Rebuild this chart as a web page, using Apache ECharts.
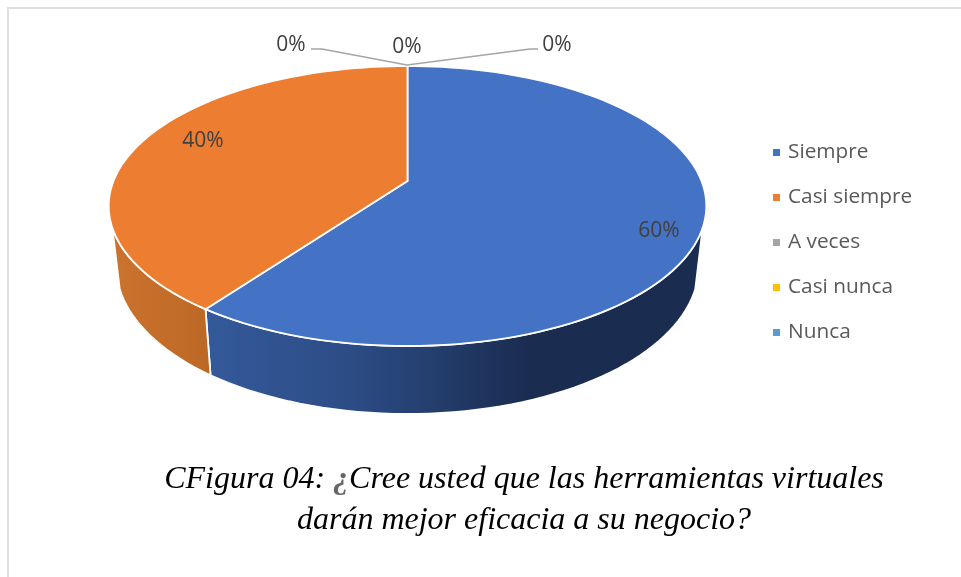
<!DOCTYPE html>
<html>
<head>
<meta charset="utf-8">
<script src="https://cdn.jsdelivr.net/npm/echarts@6/dist/echarts.min.js"></script>
<style>
    html, body { margin: 0; background: #fff; }
    #chart { width: 961px; height: 577px; }
</style>
</head>
<body>
<div id="chart"></div>
<script>
const categories = ['Siempre', 'Casi siempre', 'A veces', 'Casi nunca', 'Nunca']
const values = [60, 40, 0, 0, 0]
const colors = ['#4472c4', '#ed7d31', '#a5a5a5', '#ffc000', '#5b9bd5']
const total = values.reduce((a, b) => a + b, 0)

// the disc is seen in perspective, so its centre sits above the middle of the ellipse
const disc = { cx: 407.5, cy: 181, a: 103.2, c: -0.1786, w: 294 }
// the wall is deeper at the front than at the sides
const wall = { depth: 58, tilt: 10, shrink: 0.975, from: 109, to: 251 }
const fonts = '"Open Sans", sans-serif'

// where each label goes and its leader line, same order as categories
const labelSpots = [
    { x: 659, y: 231.5 },
    { x: 203, y: 141.5 },
    { x: 291, y: 45.5, line: [[407, 65], [322, 49], [311, 49]] },
    { x: 407, y: 47.5 },
    { x: 557, y: 45.5, line: [[407, 65], [530, 49], [538, 49]] }
]

const wallFills = [
    new echarts.graphic.LinearGradient(0, 0, 1, 0, [
        { offset: 0, color: '#34599a' },
        { offset: 0.3, color: '#2c4c85' },
        { offset: 0.65, color: '#1a2c50' },
        { offset: 1, color: '#1a2c50' }
    ]),
    new echarts.graphic.LinearGradient(0, 0, 1, 0, [
        { offset: 0, color: '#cb732f' },
        { offset: 1, color: '#bc6825' }
    ])
]

// deg is clockwise from the top of the pie
function project(deg, bottom) {
    const t = deg * Math.PI / 180
    const u = Math.sin(t), v = -Math.cos(t)
    const k = 1 + disc.c * v
    const x = disc.w * u / k
    const y = (disc.cy + disc.a * v) / k
    if (!bottom) return [disc.cx + x, y]
    return [disc.cx + x * wall.shrink, y + wall.depth + wall.tilt * v]
}

function arc(from, to, bottom) {
    const pts = []
    const n = Math.max(2, Math.ceil((to - from) / 2))
    for (let i = 0; i <= n; i++) {
        pts.push(project(from + (to - from) * i / n, bottom))
    }
    return pts
}

function sliceItem(index) {
    const before = values.slice(0, index).reduce((a, b) => a + b, 0)
    const start = before / total * 360
    const end = (before + values[index]) / total * 360
    const kids = []

    if (values[index] > 0) {
        const a = Math.max(start, wall.from), b = Math.min(end, wall.to)
        if (b > a) {
            kids.push({
                type: 'polygon',
                z2: 1,
                shape: { points: arc(a, b, false).concat(arc(a, b, true).reverse()) },
                style: { fill: wallFills[index], stroke: '#fff', lineWidth: 1.8 }
            })
        }
        kids.push({
            type: 'polygon',
            z2: 2,
            shape: { points: [[disc.cx, disc.cy]].concat(arc(start, end, false)) },
            style: { fill: colors[index], stroke: '#fff', lineWidth: 1.8 }
        })
    }

    const spot = labelSpots[index]
    if (spot.line) {
        kids.push({
            type: 'polyline',
            z2: 3,
            shape: { points: spot.line },
            style: { fill: 'none', stroke: '#a5a5a5', lineWidth: 1.5 }
        })
    }
    kids.push({
        type: 'text',
        z2: 4,
        x: spot.x,
        y: spot.y,
        style: {
            text: Math.round(values[index] / total * 100) + '%',
            font: '21px ' + fonts,
            fill: '#404040',
            align: 'center',
            verticalAlign: 'middle'
        }
    })
    return { type: 'group', children: kids }
}

const myChart = echarts.init(document.getElementById('chart'))
myChart.setOption({
    animation: false,
    backgroundColor: '#fff',
    title: {
        left: 519,
        top: 454,
        textAlign: 'center',
        text: '{a|CFigura 04: }{b|¿}{a|Cree usted que las herramientas virtuales}\n{a|darán mejor eficacia a su negocio?}',
        textStyle: {
            fontWeight: 'normal',
            rich: {
                a: { fontFamily: '"Liberation Serif"', fontStyle: 'italic', fontWeight: 'normal', fontSize: 32, lineHeight: 41, color: '#000' },
                b: { fontFamily: '"Liberation Serif"', fontStyle: 'italic', fontWeight: 'bold', fontSize: 32, lineHeight: 41, color: '#666' }
            }
        }
    },
    legend: {
        orient: 'vertical',
        left: 773,
        top: 138.5,
        padding: 0,
        icon: 'rect',
        itemWidth: 7,
        itemHeight: 7,
        itemGap: 17,
        selectedMode: false,
        data: categories,
        textStyle: { fontFamily: fonts, fontSize: 20.8, color: '#595959', padding: [0, 0, 0, 3], lineHeight: 28 }
    },
    graphic: [{
        type: 'polyline',
        silent: true,
        shape: { points: [[8, 577], [8, 8], [961, 8]] },
        style: { fill: 'none', stroke: '#dedede', lineWidth: 2 }
    }],
    series: categories.map((name, i) => ({
        name: name,
        type: 'custom',
        coordinateSystem: 'none',
        itemStyle: { color: colors[i] },
        data: [values[i]],
        renderItem: () => sliceItem(i)
    }))
})
window.addEventListener('resize', () => {
    myChart.resize()
})
</script>
</body>
</html>
